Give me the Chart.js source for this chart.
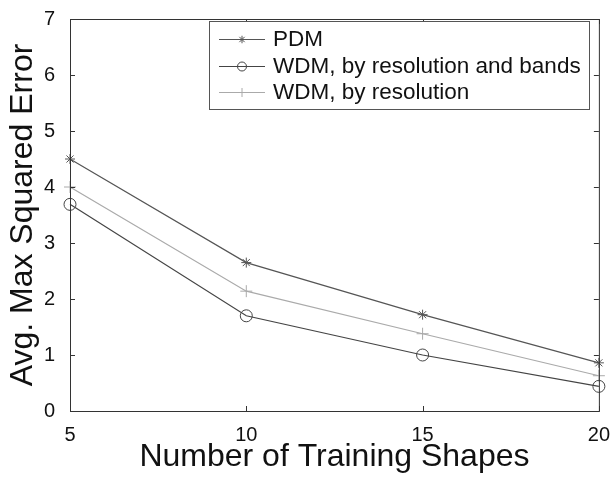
<!DOCTYPE html>
<html lang="en">
<head>
<meta charset="UTF-8">
<title>Avg. Max Squared Error vs Training Shapes</title>
<style>
  body { margin: 0; background: #fff; }
  #wrap { width: 614px; height: 480px; }
</style>
<script src="https://cdn.jsdelivr.net/npm/chart.js"></script>
</head>
<body>
<div id="wrap"><canvas id="errChart" width="614" height="480"></canvas></div>
<script>
const shapes = [5, 10, 15, 20];
const pdm = [4.50, 2.65, 1.72, 0.86];
const wdmBands = [3.69, 1.70, 1.00, 0.44];
const wdmRes = [4.00, 2.14, 1.38, 0.63];
const xTicks = [5, 10, 15, 20];
const yTicks = [0, 1, 2, 3, 4, 5, 6, 7];

const FONT = '"Liberation Sans", Arial, sans-serif';
const AXIS = '#333';

function pts(ys) { return shapes.map((x, i) => ({ x: x, y: ys[i] })); }

// matlab-style box with inward ticks and an inset legend
const boxPlugin = {
  id: 'boxPlugin',
  afterDraw(chart) {
    const { ctx, chartArea: a, scales } = chart;
    ctx.save();
    ctx.strokeStyle = AXIS;
    ctx.lineWidth = 1;
    ctx.strokeRect(a.left + 0.5, a.top + 0.5, a.right - a.left, a.bottom - a.top);
    const t = 5;
    ctx.beginPath();
    xTicks.forEach(v => {
      const px = Math.round(scales.x.getPixelForValue(v)) + 0.5;
      ctx.moveTo(px, a.bottom); ctx.lineTo(px, a.bottom - t);
      ctx.moveTo(px, a.top); ctx.lineTo(px, a.top + t);
    });
    yTicks.forEach(v => {
      const py = Math.round(scales.y.getPixelForValue(v)) + 0.5;
      ctx.moveTo(a.left, py); ctx.lineTo(a.left + t, py);
      ctx.moveTo(a.right, py); ctx.lineTo(a.right - t, py);
    });
    ctx.stroke();

    // legend
    const lx = 209, ly = 21, lw = 380, lh = 88;
    ctx.fillStyle = '#fff';
    ctx.fillRect(lx, ly, lw, lh);
    ctx.strokeStyle = '#555';
    ctx.strokeRect(lx + 0.5, ly + 0.5, lw, lh);
    const rows = [39, 66, 92];
    chart.data.datasets.forEach((ds, i) => {
      const y = rows[i] + 0.5;
      ctx.strokeStyle = ds.borderColor;
      ctx.lineWidth = 1;
      ctx.beginPath(); ctx.moveTo(219, y); ctx.lineTo(265, y); ctx.stroke();
      ctx.fillStyle = ds.pointBackgroundColor;
      Chart.helpers.drawPoint(ctx, {
        pointStyle: ds.pointStyle, radius: ds.pointRadius * 0.75, borderWidth: 1
      }, 242, y);
      ctx.fillStyle = '#111';
      ctx.font = '22.5px ' + FONT;
      ctx.textBaseline = 'middle';
      ctx.fillText(ds.label, 273, rows[i] + 1);
    });
    ctx.restore();
  }
};

new Chart(document.getElementById('errChart'), {
  type: 'line',
  data: {
    datasets: [
      { label: 'PDM', data: pts(pdm), borderColor: '#555', pointStyle: 'star',
        pointRadius: 5, pointBorderColor: '#555', pointBackgroundColor: '#555' },
      { label: 'WDM, by resolution and bands', data: pts(wdmBands), borderColor: '#444', pointStyle: 'circle',
        pointRadius: 6, pointBorderColor: '#444', pointBackgroundColor: 'rgba(255,255,255,0)' },
      { label: 'WDM, by resolution', data: pts(wdmRes), borderColor: '#aaa', pointStyle: 'cross',
        pointRadius: 6, pointBorderColor: '#aaa', pointBackgroundColor: '#aaa' }
    ].map(d => Object.assign({ borderWidth: 1.2, pointBorderWidth: 1, tension: 0, clip: false }, d))
  },
  options: {
    responsive: false,
    animation: false,
    layout: { padding: { top: 13, right: 14, left: 0, bottom: 0 } },
    plugins: { legend: { display: false }, tooltip: { enabled: false } },
    scales: {
      x: {
        type: 'linear', min: 5, max: 20,
        afterBuildTicks: s => { s.ticks = xTicks.map(v => ({ value: v })); },
        afterFit: s => { s.height = 69; },
        grid: { display: false },
        border: { display: false },
        ticks: { color: '#111', padding: 4, font: { family: FONT, size: 20 }, maxRotation: 0 },
        title: { display: true, text: 'Number of Training Shapes', color: '#111',
          font: { family: FONT, size: 32 }, padding: { top: 0 } }
      },
      y: {
        min: 0, max: 7,
        afterBuildTicks: s => { s.ticks = yTicks.map(v => ({ value: v })); },
        afterFit: s => { s.width = 70; },
        grid: { display: false },
        border: { display: false },
        ticks: { color: '#111', padding: 7, font: { family: FONT, size: 20 } },
        title: { display: true, text: 'Avg. Max Squared Error', color: '#111',
          font: { family: FONT, size: 32 }, padding: { bottom: 2 } }
      }
    }
  },
  plugins: [boxPlugin]
});
</script>
</body>
</html>
